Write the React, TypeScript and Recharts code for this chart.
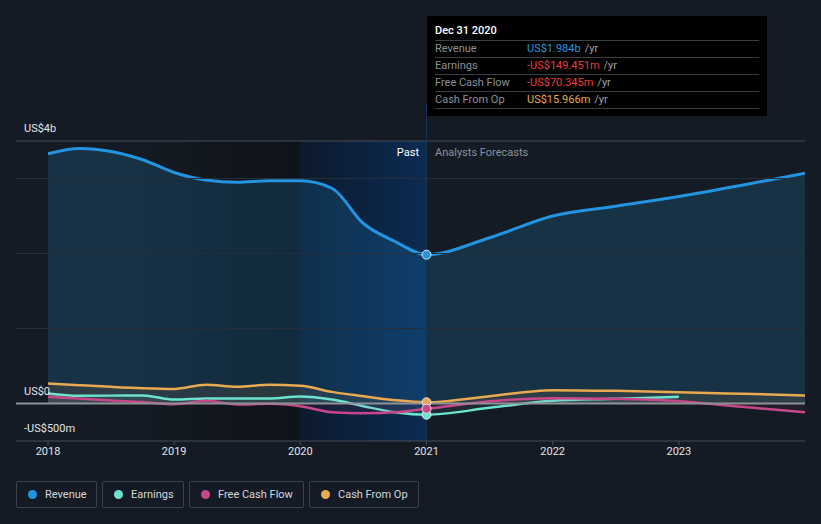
import React from 'react';
import {
  ComposedChart,
  Area,
  XAxis,
  YAxis,
  ReferenceLine,
  ReferenceArea,
} from 'recharts';

// time points (decimal years): quarterly history, then forecast points
const periods = [
  2018, 2018.25, 2018.5, 2018.75, 2019, 2019.25, 2019.5, 2019.75, 2020, 2020.25, 2020.5, 2020.75, 2021,
  2021.5, 2022, 2022.5, 2023, 2023.5, 2024,
];

// values in US$ millions
const revenue = [
  3330, 3400, 3360, 3250, 3080, 2980, 2950, 2970, 2970, 2870, 2400, 2160, 1984,
  2210, 2500, 2630, 2760, 2910, 3070,
];
const earnings = [
  133, 102, 105, 107, 53, 67, 67, 67, 93, 53, -36, -116, -149.451,
  -58, 36, 62, 89, null, null,
];
const freeCashFlow = [
  89, 65, 40, 20, -9, 36, -13, -4, -36, -116, -129, -116, -70.345,
  31, 71, 62, 31, -44, -116,
];
const cashFromOp = [
  267, 244, 222, 204, 195, 249, 222, 249, 236, 155, 98, 44, 15.966,
  98, 178, 169, 151, 130, 107,
];

const yearTicks = [2018, 2019, 2020, 2021, 2022, 2023];
const gridValues = [1000, 2000, 3000];

const COLORS = {
  revenue: '#2394df',
  earnings: '#6de3cf',
  fcf: '#c9468b',
  cfo: '#e9a950',
};

const BG = '#151b24';

const data = periods.map((x, i) => ({
  x,
  revenue: revenue[i],
  earnings: earnings[i],
  fcf: freeCashFlow[i],
  cfo: cashFromOp[i],
}));

const makeDot = (color: string) => (props: any) => {
  const { cx, cy, payload, index } = props;
  if (payload.x !== 2021 || cy == null) return <g key={`d-${index}`} />;
  return <circle key={`d-${index}`} cx={cx} cy={cy} r={4.5} fill={color} stroke="#dfe6ee" strokeWidth={1} />;
};

const legendItems = [
  { label: 'Revenue', color: COLORS.revenue, width: 81 },
  { label: 'Earnings', color: COLORS.earnings, width: 82 },
  { label: 'Free Cash Flow', color: COLORS.fcf, width: 115 },
  { label: 'Cash From Op', color: COLORS.cfo, width: 110 },
];

const tooltipRows = [
  { label: 'Revenue', value: 'US$1.984b', color: COLORS.revenue },
  { label: 'Earnings', value: '-US$149.451m', color: '#f03c3c' },
  { label: 'Free Cash Flow', value: '-US$70.345m', color: '#f03c3c' },
  { label: 'Cash From Op', value: 'US$15.966m', color: COLORS.cfo },
];

const App: React.FC = () => {
  return (
    <div
      style={{
        position: 'absolute',
        left: 0,
        top: 0,
        width: 821,
        height: 524,
        background: BG,
        fontFamily: 'Roboto, sans-serif',
        overflow: 'hidden',
      }}
    >
      <ComposedChart
        width={821}
        height={524}
        data={data}
        margin={{ top: 141, right: 16, left: 16, bottom: 63 }}
      >
        <defs>
          <linearGradient id="pastShade" x1="0" y1="0" x2="1" y2="0">
            <stop offset="0%" stopColor="#000000" stopOpacity={0} />
            <stop offset="100%" stopColor="#000000" stopOpacity={0.3} />
          </linearGradient>
          <linearGradient id="lastYear" x1="0" y1="0" x2="1" y2="0">
            <stop offset="0%" stopColor="#0c1a2d" stopOpacity={1} />
            <stop offset="100%" stopColor="#0b2b52" stopOpacity={1} />
          </linearGradient>
        </defs>
        <XAxis
          dataKey="x"
          type="number"
          domain={[2017.746, 2024]}
          ticks={yearTicks}
          allowDataOverflow
          height={20}
          axisLine={{ stroke: '#474d58', strokeWidth: 1 }}
          tickLine={{ stroke: '#474d58' }}
          tickSize={4}
          tick={{ fill: '#e2e4e8', fontSize: 11 }}
        />
        <YAxis hide type="number" domain={[-500, 3500]} allowDataOverflow />
        <ReferenceArea x1={2018.6} x2={2020} y1={-500} y2={3500} fill="url(#pastShade)" fillOpacity={1} stroke="none" />
        <ReferenceArea x1={2020} x2={2021} y1={-500} y2={3500} fill="url(#lastYear)" fillOpacity={1} stroke="none" />
        {gridValues.map((v) => (
          <ReferenceLine key={v} y={v} stroke="#262e3a" strokeWidth={1} />
        ))}
        <ReferenceLine y={3500} stroke="#474d58" strokeWidth={1} />
        <ReferenceLine
          segment={[
            { x: 2021, y: -500 },
            { x: 2021, y: 4000 },
          ]}
          ifOverflow="visible"
          stroke="#1a3456"
          strokeWidth={1}
        />
        <ReferenceLine y={0} stroke="#8f9197" strokeWidth={2} />
        <Area
          type="monotone"
          dataKey="revenue"
          stroke={COLORS.revenue}
          strokeWidth={3}
          fill={COLORS.revenue}
          fillOpacity={0.18}
          dot={makeDot(COLORS.revenue)}
          activeDot={false}
          isAnimationActive={false}
        />
        <Area
          type="monotone"
          dataKey="cfo"
          stroke={COLORS.cfo}
          strokeWidth={2.5}
          fill={COLORS.cfo}
          fillOpacity={0.1}
          dot={makeDot(COLORS.cfo)}
          activeDot={false}
          isAnimationActive={false}
        />
        <Area
          type="monotone"
          dataKey="earnings"
          stroke={COLORS.earnings}
          strokeWidth={2.5}
          fill={COLORS.earnings}
          fillOpacity={0.08}
          dot={makeDot(COLORS.earnings)}
          activeDot={false}
          isAnimationActive={false}
        />
        <Area
          type="monotone"
          dataKey="fcf"
          stroke={COLORS.fcf}
          strokeWidth={2.5}
          fill={COLORS.fcf}
          fillOpacity={0.08}
          dot={makeDot(COLORS.fcf)}
          activeDot={false}
          isAnimationActive={false}
        />
      </ComposedChart>

      {/* y labels */}
      <div style={{ position: 'absolute', left: 24, top: 122, fontSize: 11, color: '#e2e4e8' }}>US$4b</div>
      <div style={{ position: 'absolute', left: 24, top: 385, fontSize: 11, color: '#e2e4e8' }}>US$0</div>
      <div style={{ position: 'absolute', left: 24, top: 422, fontSize: 11, color: '#e2e4e8' }}>-US$500m</div>

      {/* past / forecast labels */}
      <div style={{ position: 'absolute', right: 821 - 419, top: 146, fontSize: 11, color: '#ffffff' }}>Past</div>
      <div style={{ position: 'absolute', left: 435, top: 146, fontSize: 11, color: '#8b9099' }}>Analysts Forecasts</div>

      {/* tooltip box */}
      <div
        style={{
          position: 'absolute',
          left: 427,
          top: 16,
          width: 340,
          height: 100,
          background: '#000000',
          boxSizing: 'border-box',
          padding: '0 8px',
        }}
      >
        <div style={{ height: 24, lineHeight: '30px', fontSize: 11, fontWeight: 500, color: '#ffffff', borderBottom: '1px solid #3a3f47' }}>
          Dec 31 2020
        </div>
        {tooltipRows.map((r) => (
          <div
            key={r.label}
            style={{
              height: 16,
              lineHeight: '16px',
              fontSize: 11,
              display: 'flex',
              borderBottom: '1px solid #3a3f47',
            }}
          >
            <span style={{ width: 92, color: '#8b9099' }}>{r.label}</span>
            <span style={{ color: r.color }}>{r.value}</span>
            <span style={{ color: '#9ea3ab', marginLeft: 4 }}>/yr</span>
          </div>
        ))}
      </div>

      {/* legend */}
      <div style={{ position: 'absolute', left: 16, top: 481, display: 'flex', gap: 5 }}>
        {legendItems.map((it) => (
          <div
            key={it.label}
            style={{
              width: it.width,
              height: 27,
              flexShrink: 0,
              whiteSpace: 'nowrap',
              boxSizing: 'border-box',
              border: '1px solid #3b414b',
              borderRadius: 2,
              display: 'flex',
              alignItems: 'center',
              paddingLeft: 11,
              fontSize: 11,
              color: '#d4d7dc',
            }}
          >
            <span
              style={{
                width: 9,
                height: 9,
                borderRadius: '50%',
                background: it.color,
                display: 'inline-block',
                flexShrink: 0,
                marginRight: 8,
              }}
            />
            {it.label}
          </div>
        ))}
      </div>
    </div>
  );
};

export default App;
